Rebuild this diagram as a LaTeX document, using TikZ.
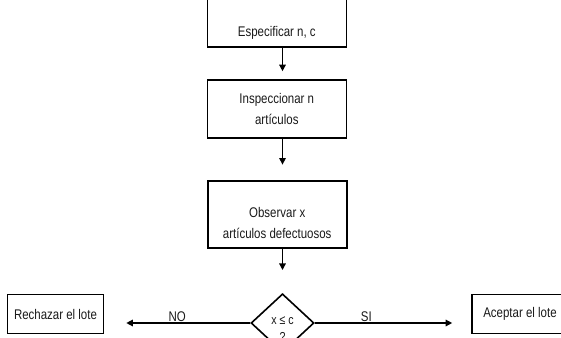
\documentclass[tikz,border=0pt]{standalone}
\usepackage{fontspec}
\setmainfont{Liberation Sans}[FakeStretch=0.82]
\usetikzlibrary{arrows.meta,shapes.geometric}
\begin{document}
\begin{tikzpicture}[x=1pt,y=-1pt,
  every node/.style={font=\fontsize{14}{21}\selectfont, text=black!90},
  box/.style={draw, line width=1.6pt, align=center, inner sep=0pt, minimum width=139pt},
  endbox/.style={draw, line width=1.6pt, inner sep=0pt, minimum width=96pt, minimum height=39pt},
  dec/.style={draw, diamond, line width=1.6pt, inner sep=0pt, minimum width=63pt, minimum height=56pt, align=center, font=\fontsize{13}{17}\selectfont},
  flow/.style={line width=1.3pt, -{Triangle[length=6.5pt,width=6.5pt]}},
  lbl/.style={inner sep=1pt, font=\fontsize{14}{16}\selectfont}]
\useasboundingbox (0,0) rectangle (561,337);
\clip (0,0) rectangle (561,337);
\node[box, minimum height=60pt, anchor=south] (s1) at (276.8,47.8) {\rule{0pt}{41pt}Especificar n, c};
\node[box, minimum height=58pt] (s2) at (276.8,109) {Inspeccionar n\\art\'iculos};
\node[box, minimum height=67pt] (s3) at (277.2,214.4) {\rule{0pt}{28pt}Observar x\\art\'iculos defectuosos};
\node[dec] (d) at (282.5,323) {\rule{0pt}{19pt}x ≤ c\\?};
\node[endbox] (r) at (55.5,314) {Rechazar el lote};
\node[endbox] (a) at (520,314) {Aceptar el lote};
\draw[flow, shorten >=8pt] (s1.south -| d.north) -- (s2.north -| d.north);
\draw[flow, shorten >=15.5pt] (s2.south -| d.north) -- (s3.north -| d.north);
\draw[flow, shorten >=23pt] (s3.south -| d.north) -- (d.north);
\draw[flow, shorten >=22pt] (d.west) -- node[lbl, above] {NO} (d.west -| r.east);
\draw[flow, shorten >=19pt] (d.east) -- node[lbl, above, pos=0.33] {SI} (d.east -| a.west);
\end{tikzpicture}
\end{document}
